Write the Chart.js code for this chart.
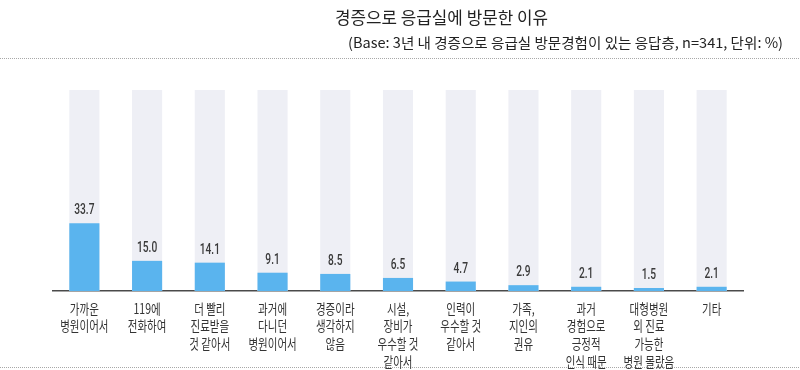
<!DOCTYPE html>
<html>
<head>
<meta charset="utf-8">
<script src="https://cdn.jsdelivr.net/npm/chart.js@4.4.1/dist/chart.umd.min.js"></script>
<style>
  html, body { margin: 0; padding: 0; background: #fff; }
  #chart { display: block; }
</style>
</head>
<body>
<canvas id="chart" width="800" height="370"></canvas>
<script>
const titleText = '경증으로 응급실에 방문한 이유';
const subtitleText = '(Base: 3년 내 경증으로 응급실 방문경험이 있는 응답층, n=341, 단위: %)';

const categories = [
  ['가까운', '병원이어서'],
  ['119에', '전화하여'],
  ['더 빨리', '진료받을', '것 같아서'],
  ['과거에', '다니던', '병원이어서'],
  ['경증이라', '생각하지', '않음'],
  ['시설,', '장비가', '우수할 것', '같아서'],
  ['인력이', '우수할 것', '같아서'],
  ['가족,', '지인의', '권유'],
  ['과거', '경험으로', '긍정적', '인식 때문'],
  ['대형병원', '외 진료', '가능한', '병원 몰랐음'],
  ['기타']
];
const values = [33.7, 15.0, 14.1, 9.1, 8.5, 6.5, 4.7, 2.9, 2.1, 1.5, 2.1];
const trackValues = [100, 100, 100, 100, 100, 100, 100, 100, 100, 100, 100];

const KR_FONT = '"Noto Sans CJK KR", "Noto Sans", sans-serif';

// draw text squeezed horizontally (the source uses narrow fonts)
function drawSqueezed(ctx, text, x, y, sx, align) {
  ctx.save();
  ctx.translate(x, y);
  ctx.scale(sx, 1);
  ctx.textAlign = align || 'center';
  ctx.fillText(text, 0, 0);
  ctx.restore();
}

function drawFit(ctx, text, x, y, width, align) {
  const w = ctx.measureText(text).width;
  drawSqueezed(ctx, text, x, y, width / w, align);
}

const decorPlugin = {
  id: 'decor',
  afterDraw(chart) {
    const ctx = chart.ctx;
    const xScale = chart.scales.x;

    // dotted separators
    ctx.save();
    ctx.strokeStyle = '#a8a8a8';
    ctx.lineWidth = 1;
    ctx.setLineDash([1, 1]);
    [58.5, 367.5].forEach(y => {
      ctx.beginPath();
      ctx.moveTo(0, y);
      ctx.lineTo(800, y);
      ctx.stroke();
    });
    ctx.restore();

    // title + subtitle
    ctx.save();
    ctx.fillStyle = '#222';
    ctx.textBaseline = 'middle';
    ctx.font = '17px ' + KR_FONT;
    drawFit(ctx, titleText, 441.5, 17.5, 213, 'center');
    ctx.font = '14px ' + KR_FONT;
    drawFit(ctx, subtitleText, 783, 42.5, 435, 'right');
    ctx.restore();

    // value labels above bars
    const meta = chart.getDatasetMeta(0);
    ctx.save();
    ctx.fillStyle = '#3a3a3a';
    ctx.textBaseline = 'alphabetic';
    ctx.font = '500 15px Roboto, sans-serif';
    meta.data.forEach((bar, i) => {
      drawSqueezed(ctx, values[i].toFixed(1), bar.x, bar.y - 9, 0.68, 'center');
    });
    ctx.restore();

    // category labels
    ctx.save();
    ctx.fillStyle = '#333';
    ctx.textBaseline = 'middle';
    ctx.font = '14px ' + KR_FONT;
    categories.forEach((lines, i) => {
      const x = xScale.getPixelForValue(i);
      lines.forEach((line, k) => {
        drawSqueezed(ctx, line, x, 308.5 + k * 17.6, 0.75, 'center');
      });
    });
    ctx.restore();
  }
};

new Chart(document.getElementById('chart'), {
  type: 'bar',
  data: {
    labels: categories.map(c => c.join(' ')),
    datasets: [
      {
        label: '비율',
        data: values,
        backgroundColor: '#5ab4ee',
        grouped: false,
        order: 1,
        barPercentage: 0.48,
        categoryPercentage: 1
      },
      {
        label: 'track',
        data: trackValues,
        backgroundColor: '#eeeff5',
        grouped: false,
        order: 2,
        barPercentage: 0.48,
        categoryPercentage: 1
      }
    ]
  },
  options: {
    responsive: false,
    animation: false,
    devicePixelRatio: 1,
    layout: {
      padding: { left: 53, right: 57, top: 90, bottom: 79 }
    },
    scales: {
      x: {
        grid: { display: false, drawTicks: false },
        ticks: { display: false },
        border: { display: true, color: '#4a4a4a', width: 1.5 }
      },
      y: {
        display: false,
        min: 0,
        max: 100
      }
    },
    plugins: {
      legend: { display: false },
      tooltip: { enabled: false }
    }
  },
  plugins: [decorPlugin]
});
</script>
</body>
</html>
